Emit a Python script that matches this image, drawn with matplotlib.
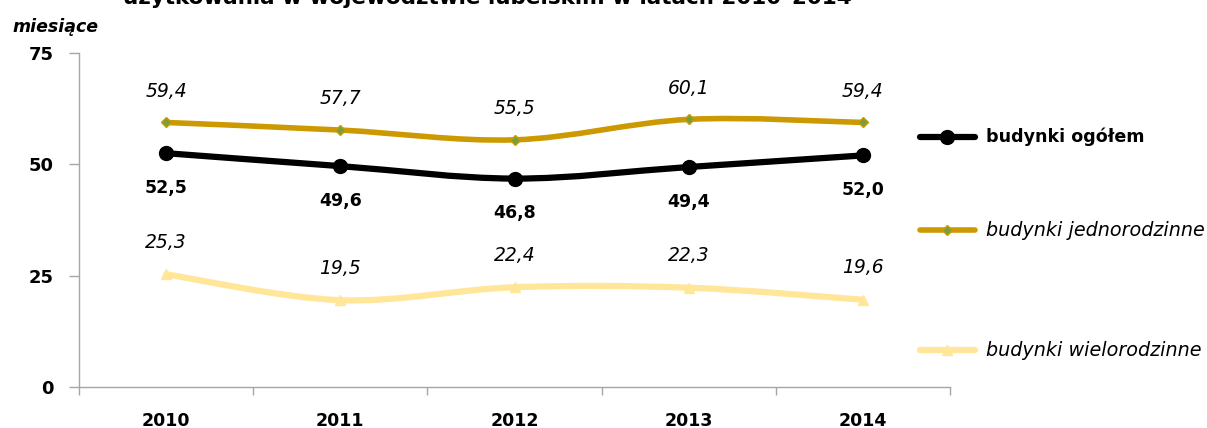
import matplotlib
matplotlib.use("Agg")
import matplotlib.pyplot as plt
from matplotlib.path import Path
from matplotlib.patches import PathPatch
from matplotlib.lines import Line2D
import numpy as np

plt.rcParams['font.family'] = ['DejaVu Sans']

years = ["2010", "2011", "2012", "2013", "2014"]
ogolem = [52.5, 49.6, 46.8, 49.4, 52.0]
jednorodzinne = [59.4, 57.7, 55.5, 60.1, 59.4]
wielorodzinne = [25.3, 19.5, 22.4, 22.3, 19.6]
series_names = ["budynki ogółem", "budynki jednorodzinne", "budynki wielorodzinne"]
yticks = [0, 25, 50, 75]
title = "użytkowania w województwie lubelskim w latach 2010–2014"
ylabel = "miesiące"

W, H = 1207, 428
fig = plt.figure(figsize=(W / 100, H / 100), dpi=100)
ax = fig.add_axes([79 / W, (H - 387) / H, (950 - 79) / W, (387 - 53) / H])

x = np.arange(len(years))


def smooth_path(xs, ys):
    pts = np.column_stack([xs, ys]).astype(float)
    n = len(pts)
    verts = [pts[0]]
    codes = [Path.MOVETO]
    for i in range(n - 1):
        p0 = pts[i - 1] if i > 0 else pts[i]
        p1 = pts[i]
        p2 = pts[i + 1]
        p3 = pts[i + 2] if i + 2 < n else pts[i + 1]
        c1 = p1 + (p2 - p0) / 6.0
        c2 = p2 - (p3 - p1) / 6.0
        verts += [c1, c2, p2]
        codes += [Path.CURVE4] * 3
    return Path(verts, codes)


styles = [
    dict(color="black", lw=4.5, marker="o", ms=10, mfc="black", mec="black", z=5),
    dict(color="#CC9900", lw=4.0, marker="D", ms=5, mfc="#77A03A", mec="#CC9900", z=4),
    dict(color="#FFE699", lw=4.5, marker="^", ms=7, mfc="#FFE699", mec="#FFE699", z=3),
]
data = [ogolem, jednorodzinne, wielorodzinne]

for vals, st in zip(data, styles):
    patch = PathPatch(smooth_path(x, vals), facecolor="none", edgecolor=st["color"],
                      lw=st["lw"], capstyle="round", joinstyle="round", zorder=st["z"])
    ax.add_patch(patch)
    ax.plot(x, vals, linestyle="none", marker=st["marker"], ms=st["ms"],
            mfc=st["mfc"], mec=st["mec"], zorder=st["z"] + 0.5)

for xi, v in zip(x, ogolem):
    ax.annotate(f"{v:.1f}".replace(".", ","), (xi, v), xytext=(0, -25), textcoords="offset points",
                ha="center", va="center", fontsize=12.5, fontweight="bold", color="black")
for xi, v in zip(x, jednorodzinne):
    ax.annotate(f"{v:.1f}".replace(".", ","), (xi, v), xytext=(0, 22.5), textcoords="offset points",
                ha="center", va="center", fontsize=13.5, fontstyle="italic", color="black")
for xi, v in zip(x, wielorodzinne):
    ax.annotate(f"{v:.1f}".replace(".", ","), (xi, v), xytext=(0, 23), textcoords="offset points",
                ha="center", va="center", fontsize=13.5, fontstyle="italic", color="black")

ax.set_xlim(-0.5, len(years) - 0.5)
ax.set_ylim(0, 75)
ax.set_yticks(yticks)
ax.set_yticklabels([str(t) for t in yticks], fontsize=13, fontweight="bold")
ax.set_xticks(x)
ax.set_xticklabels(years, fontsize=12.5, fontweight="bold")
ax.set_xticks(np.arange(len(years) + 1) - 0.5, minor=True)
ax.tick_params(axis="x", which="major", length=0, pad=18)
ax.tick_params(axis="x", which="minor", length=6, color="#A6A6A6", width=1)
ax.tick_params(axis="y", length=7, color="#A6A6A6", width=1, pad=11)
for s in ["top", "right"]:
    ax.spines[s].set_visible(False)
for s in ["left", "bottom"]:
    ax.spines[s].set_color("#A6A6A6")
    ax.spines[s].set_linewidth(1)

# y-axis unit label
fig.text(55 / W, 1 - 27 / H, ylabel, ha="center", va="center", fontsize=12.5,
         fontweight="bold", fontstyle="italic")
# title (partly clipped at the top edge, as in the source)
fig.text(487 / W, 1 - 4 / H, title, ha="center", va="baseline", fontsize=15.5, fontweight="bold")

# legend, drawn manually
leg_y = [137, 230, 350]
leg_w = ["bold", "normal", "normal"]
leg_s = ["normal", "italic", "italic"]
leg_fs = [12.6, 13.8, 13.8]
for name, st, yy, fw, fst, lfs in zip(series_names, styles, leg_y, leg_w, leg_s, leg_fs):
    yf = 1 - yy / H
    fig.add_artist(Line2D([920 / W, 975 / W], [yf, yf], color=st["color"], lw=st["lw"],
                          solid_capstyle="round", transform=fig.transFigure))
    fig.add_artist(Line2D([947 / W], [yf], linestyle="none", marker=st["marker"], ms=st["ms"],
                          mfc=st["mfc"], mec=st["mec"], transform=fig.transFigure))
    fig.text(986 / W, yf, name, ha="left", va="center", fontsize=lfs, fontweight=fw, fontstyle=fst)

fig.savefig("out.png", dpi=100)
